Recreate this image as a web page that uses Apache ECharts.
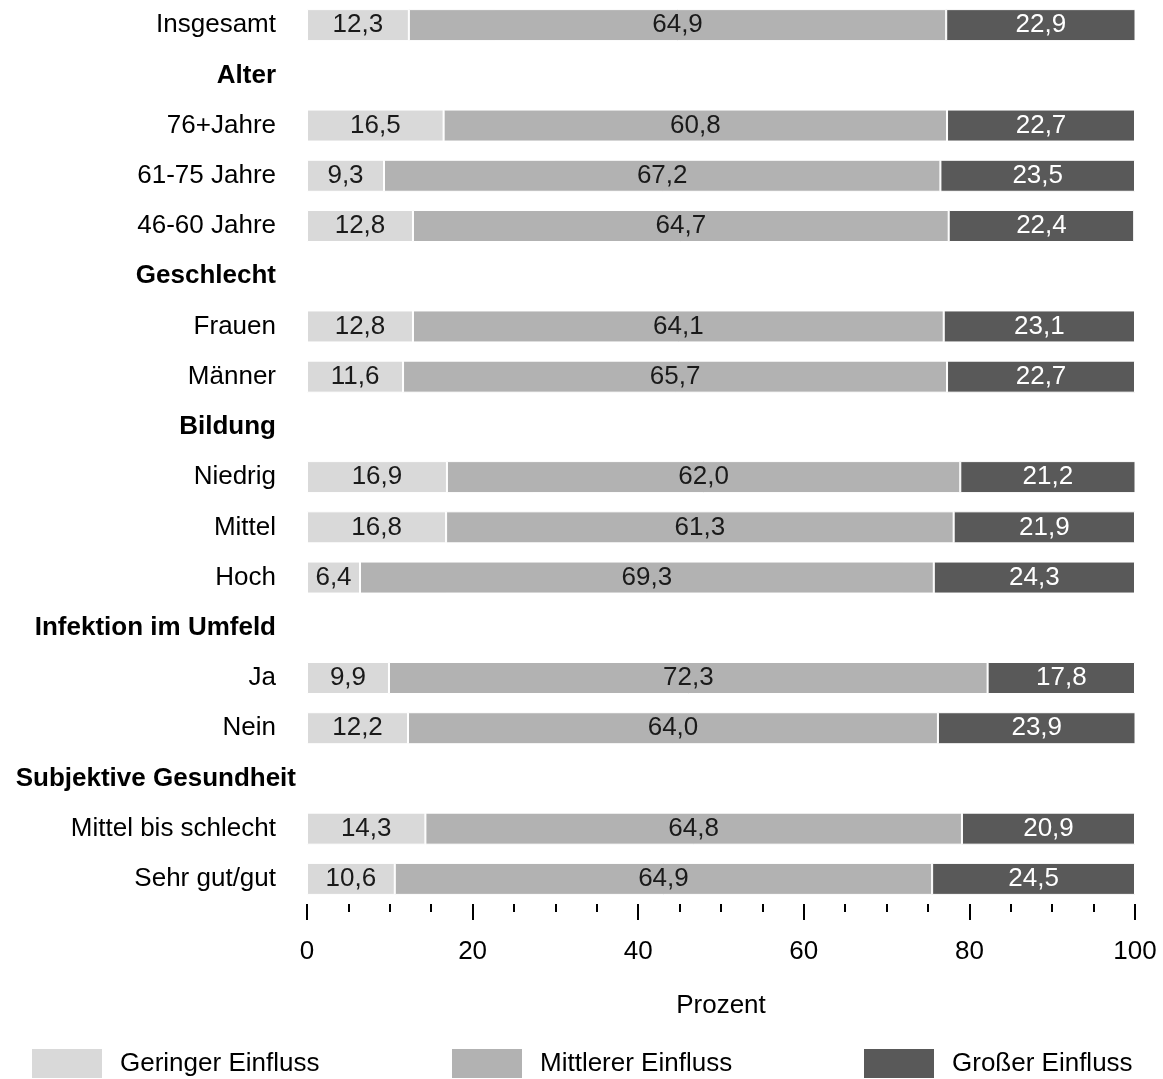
<!DOCTYPE html>
<html>
<head>
<meta charset="utf-8">
<script src="https://cdn.jsdelivr.net/npm/echarts@6/dist/echarts.min.js"></script>
<style>
html,body{margin:0;padding:0;background:#fff;}
#chart{width:1163px;height:1079px;}
</style>
</head>
<body>
<div id="chart"></div>
<script>
const categories = ['Insgesamt','Alter','76+Jahre','61-75 Jahre','46-60 Jahre','Geschlecht','Frauen','Männer','Bildung','Niedrig','Mittel','Hoch','Infektion im Umfeld','Ja','Nein','Subjektive Gesundheit','Mittel bis schlecht','Sehr gut/gut'];
const headers = ['Alter','Geschlecht','Bildung','Infektion im Umfeld','Subjektive Gesundheit'];
const seriesNames = ['Geringer Einfluss','Mittlerer Einfluss','Großer Einfluss'];
const gering = [12.3,null,16.5,9.3,12.8,null,12.8,11.6,null,16.9,16.8,6.4,null,9.9,12.2,null,14.3,10.6];
const mittel = [64.9,null,60.8,67.2,64.7,null,64.1,65.7,null,62.0,61.3,69.3,null,72.3,64.0,null,64.8,64.9];
const gross = [22.9,null,22.7,23.5,22.4,null,23.1,22.7,null,21.2,21.9,24.3,null,17.8,23.9,null,20.9,24.5];
const xTicks = [0,20,40,60,80,100];

const colors = ['#d9d9d9','#b2b2b2','#595959'];
const labelColors = ['#1a1a1a','#1a1a1a','#ffffff'];
const FONT = "'Liberation Sans', Arial, sans-serif";
const FS = 26;

const chart = echarts.init(document.getElementById('chart'));

const yData = categories.map(c => {
  if (headers.indexOf(c) >= 0) {
    const ts = {fontWeight:'bold', fontSize:FS, color:'#000', fontFamily: FONT};
    if (c === 'Subjektive Gesundheit') ts.padding = [0,-20,0,0];
    return {value:c, textStyle: ts};
  }
  return c;
});

const values = [gering, mittel, gross];
const series = values.map((arr, i) => ({
  name: seriesNames[i],
  type: 'bar',
  stack: 'total',
  barWidth: 32,
  data: arr,
  itemStyle: {color: colors[i], borderColor:'#ffffff', borderWidth:1},
  label: {
    show: true,
    position: 'inside',
    color: labelColors[i],
    fontSize: FS,
    fontFamily: FONT,
    formatter: p => p.value == null ? '' : p.value.toFixed(1).replace('.', ',')
  },
  emphasis: {disabled: true},
  animation: false
}));

const legendLefts = [30, 450, 862];
const legends = seriesNames.map((n, i) => ({
  data: [n],
  left: legendLefts[i],
  top: 1047,
  padding: 0,
  itemWidth: 72,
  itemHeight: 31,
  itemGap: 0,
  icon: 'rect',
  textStyle: {fontSize: FS, color:'#000', fontFamily: FONT, padding:[0,0,0,12]},
  selectedMode: false
}));

chart.setOption({
  animation: false,
  backgroundColor: '#fff',
  textStyle: {fontFamily: FONT},
  grid: {left: 307, right: 28, top: -2, bottom: 175, containLabel: false},
  legend: legends,
  xAxis: {
    type: 'value',
    min: xTicks[0],
    max: xTicks[xTicks.length-1],
    interval: 20,
    axisLine: {show: false},
    axisTick: {show: true, length: 16, lineStyle: {color:'#000', width:2}},
    minorTick: {show: true, splitNumber: 4, length: 8, lineStyle: {color:'#000', width:2}},
    splitLine: {show: false},
    minorSplitLine: {show: false},
    axisLabel: {fontSize: FS, color:'#000', margin: 35, fontFamily: FONT},
    name: 'Prozent',
    nameLocation: 'middle',
    nameGap: 89,
    nameTextStyle: {fontSize: FS, color:'#000', fontFamily: FONT}
  },
  yAxis: {
    type: 'category',
    inverse: true,
    data: yData,
    axisLine: {show: false},
    axisTick: {show: false},
    axisLabel: {fontSize: FS, color:'#000', margin: 31, fontFamily: FONT, interval: 0}
  },
  series: series
});
</script>
</body>
</html>
